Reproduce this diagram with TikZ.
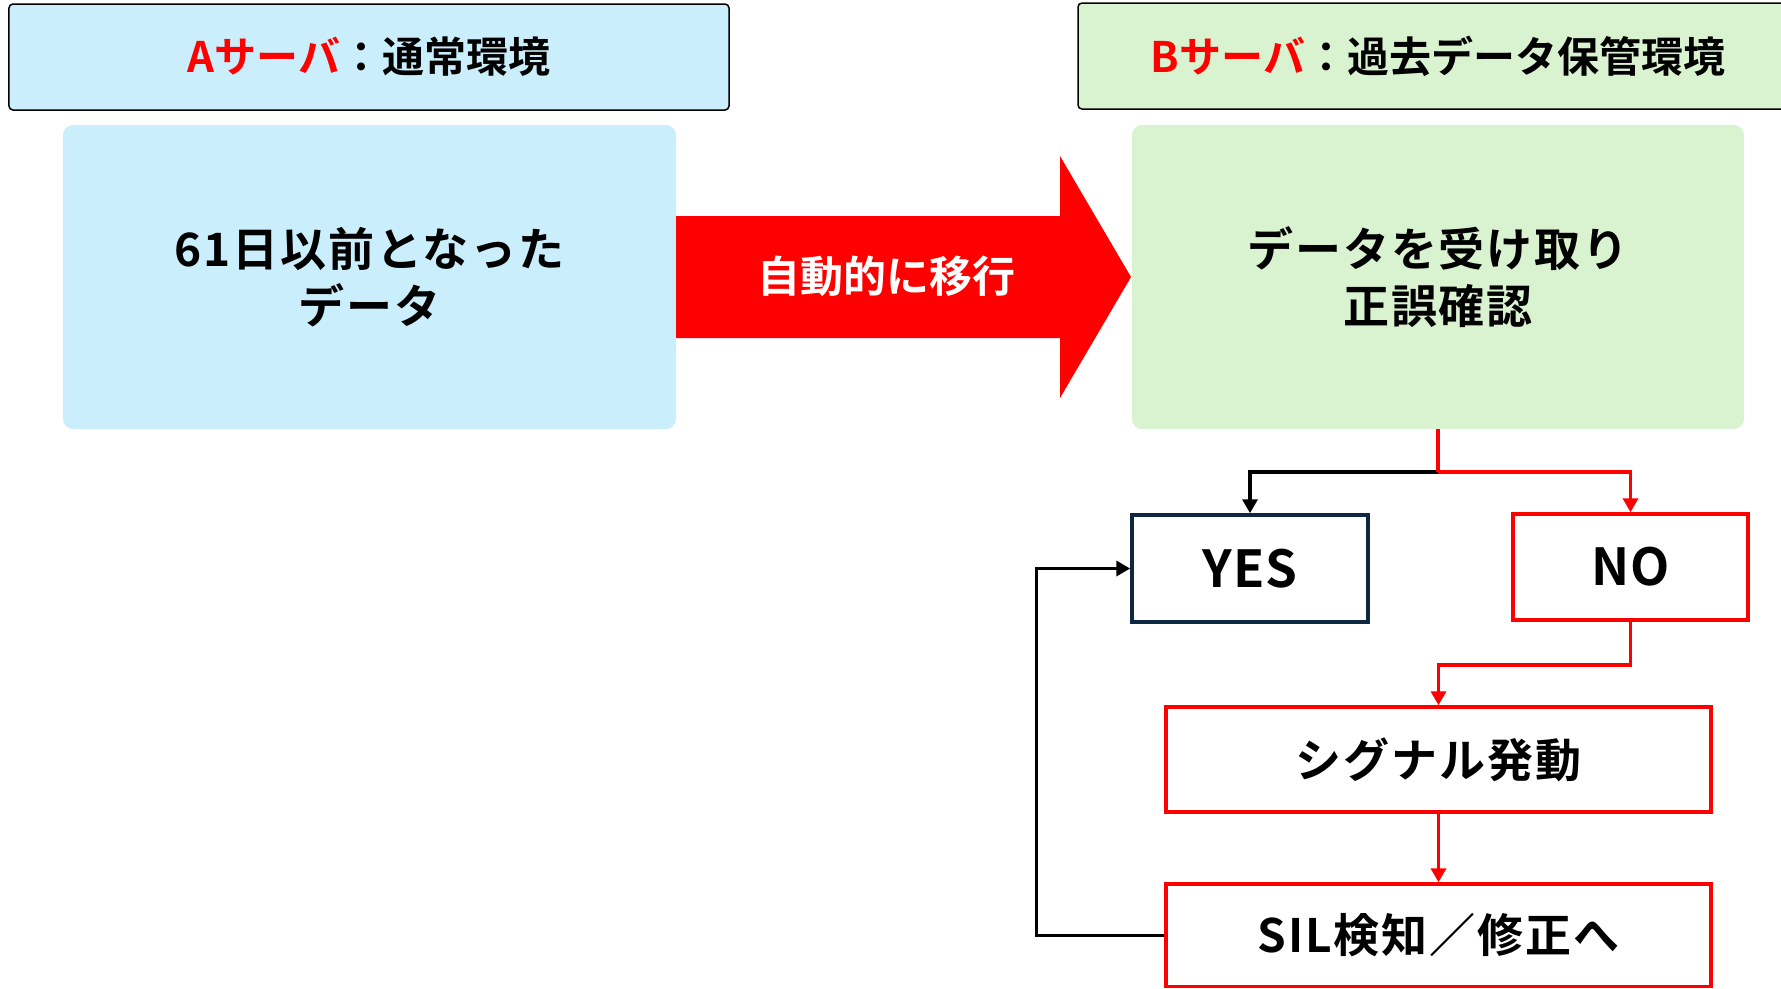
\documentclass[tikz,border=0pt]{standalone}
\usepackage{fontspec}
\newfontfamily\jpb{Noto Sans CJK JP Bold}[LetterSpace=4]
\newfontfamily\jpt{Noto Sans CJK JP Bold}[LetterSpace=2]
\newfontfamily\jpa{Noto Sans CJK JP Bold}
\usetikzlibrary{arrows.meta}
\definecolor{boxblue}{HTML}{CAEEFB}
\definecolor{boxgreen}{HTML}{D9F2D0}
\definecolor{navy}{HTML}{0E2841}
\definecolor{myred}{HTML}{FF0000}
\tikzset{
  hdr/.style={draw=black, line width=1.5bp, rounded corners=4bp, minimum width=720bp,
    minimum height=106bp, inner sep=0pt, font=\jpa\fontsize{42bp}{48bp}\selectfont},
  bigbox/.style={rounded corners=10bp, minimum width=613bp, minimum height=304bp,
    inner sep=0pt, align=center, font=\jpb\fontsize{46bp}{57bp}\selectfont},
  flowbox/.style={draw=myred, line width=3.5bp, fill=white, inner sep=0pt,
    font=\jpb\fontsize{46bp}{50bp}\selectfont},
  ynbox/.style={line width=3.5bp, fill=white, inner sep=0pt, minimum width=236bp,
    minimum height=107bp, font=\jpt\fontsize{51bp}{56bp}\selectfont},
  conn/.style={line width=3.5bp, -{Triangle[width=15bp,length=14bp]}},
}
\begin{document}
\begin{tikzpicture}[x=1bp,y=-1bp]
\useasboundingbox (0,0) rectangle (1781,988);
\clip (0,0) rectangle (1781,988);
\fill[white] (0,0) rectangle (1781,988);

% headers
\node[hdr, fill=boxblue] (hA) at (369,57) {\textcolor{myred}{Aサーバ}：通常環境};
\node[hdr, fill=boxgreen] (hB) at (1438,56) {\textcolor{myred}{Bサーバ}：過去データ保管環境};

% main boxes
\node[bigbox, fill=boxblue] (src) at (369.5,277) {61日以前となった\\データ};
\node[bigbox, fill=boxgreen, minimum width=612bp] (dst) at (1438,277) {データを受け取り\\正誤確認};

% big red arrow
\fill[myred] (676,216) -- (1060,216) -- (1060,156) -- (1131,277) -- (1060,398)
  -- (1060,338) -- (676,338) -- cycle;
\node[text=white, inner sep=0pt, font=\jpa\fontsize{43bp}{50bp}\selectfont] (mv) at (886,276) {自動的に移行};

% decision boxes
\node[ynbox, draw=navy] (yes) at (1250,568.5) {YES};
\node[ynbox, draw=myred, minimum width=235bp, minimum height=106bp] (no) at (1630.5,567) {NO};
\node[flowbox, minimum width=545bp, minimum height=105bp] (sig) at (1438.5,759.5) {シグナル発動};
\node[flowbox, minimum width=545bp, minimum height=102.5bp] (sil) at (1438.5,935.25) {SIL検知／修正へ};

% connectors
\coordinate (j1) at (1438,472);
\draw[conn, black] (j1) -| (yes.north);
\draw[line width=3.5bp, myred] (dst.south) -- (j1);
\draw[conn, myred] (j1) -| (no.north);
\draw[conn, myred] (no.south) -- ++(0,43) -| (sig.north);
\draw[conn, myred] (sig.south) -- (sil.north);
\draw[conn, black] (sil.west) -- ++(-128,0) |- (yes.west);
\end{tikzpicture}
\end{document}
